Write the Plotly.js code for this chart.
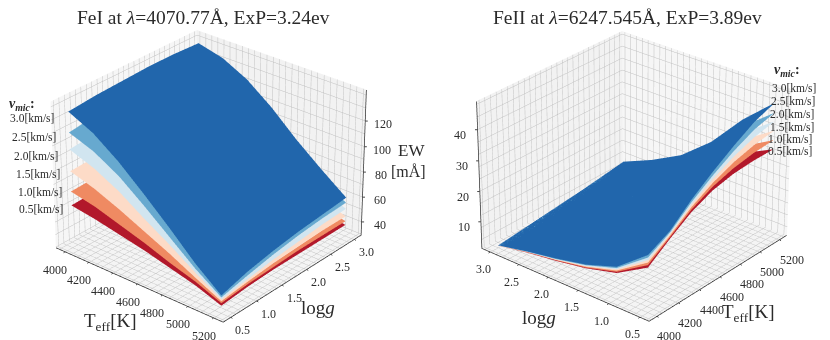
<!DOCTYPE html>
<html>
<head>
<meta charset="utf-8">
<script src="https://cdn.plot.ly/plotly-3.0.1.min.js"></script>
<style>
html,body{margin:0;padding:0;background:#fff;width:830px;height:340px;overflow:hidden}
/* plot is taller than the window: a big scene with a far camera gives the weak perspective of the original */
#chart{position:absolute;left:0;top:-762px;width:830px;height:1864px}
</style>
</head>
<body>
<div id="chart"></div>
<script>
// grid
const teff = [4000, 4200, 4400, 4600, 4800, 5000, 5200];
const logg = [0.5, 1.0, 1.5, 2.0, 2.5, 3.0];
const vmicLabels = ['0.5[km/s]', '1.0[km/s]', '1.5[km/s]', '2.0[km/s]', '2.5[km/s]', '3.0[km/s]'];
const vmicColors = ['#b2182b', '#ef8a62', '#fddbc7', '#d1e5f0', '#67a9cf', '#2166ac'];

// FeI EW, rows = logg, columns = teff
const feI_05 = [
	[63, 60, 56, 52, 47, 42, 35],
	[64, 61, 57, 52, 47, 43, 37],
	[64, 61, 57, 52, 47, 43, 38],
	[65, 61, 57, 52, 47, 42, 38],
	[65, 61, 57, 52, 47, 42, 38],
	[65, 61, 57, 52, 47, 42, 38],
];
const feI_10 = [
	[74, 70, 64, 58, 51, 45, 37],
	[75, 71, 65, 58, 52, 46, 39],
	[76, 72, 65, 59, 52, 46, 40],
	[77, 72, 66, 59, 52, 46, 41],
	[77, 72, 66, 59, 52, 46, 41],
	[78, 73, 66, 59, 52, 46, 41],
];
const feI_15 = [
	[90, 84, 76, 67, 58, 48, 38.5],
	[91, 85, 77, 68, 58, 50, 41],
	[93, 87, 78, 69, 59, 50, 43],
	[94, 88, 79, 69, 60, 51, 44],
	[95, 89, 80, 70, 60, 51, 45],
	[96, 89, 80, 70, 60, 52, 45],
];
const feI_20 = [
	[107, 100, 90, 77, 65, 52, 40],
	[109, 102, 92, 80, 67, 55, 43],
	[111, 104, 94, 81, 69, 56, 46],
	[113, 106, 95, 83, 70, 58, 48],
	[114, 107, 96, 84, 71, 59, 50],
	[115, 108, 97, 85, 72, 60, 51],
];
const feI_25 = [
	[120, 113, 102, 87, 71, 55, 41.5],
	[123, 116, 105, 90, 75, 60, 46],
	[126, 119, 108, 93, 78, 63, 50],
	[128, 121, 110, 95, 80, 65, 53],
	[129, 122, 111, 96, 81, 66, 55],
	[130, 123, 112, 97, 82, 67, 56],
];
const feI_30 = [
	[136, 127, 113, 96, 78, 59, 43],
	[138, 131, 118, 101, 83, 65, 49],
	[139, 133, 121, 105, 86, 69, 53],
	[140, 135, 123, 107, 88, 71, 56],
	[140, 135, 124, 108, 90, 73, 58],
	[139, 134, 124, 109, 91, 75, 60],
];

// FeII EW, rows = logg, columns = teff
const feII_05 = [
	[15.5, 20.5, 25, 28, 29.5, 30, 30],
	[9.5, 14, 18.5, 21.5, 23.5, 25, 25],
	[6.8, 10, 13.5, 16, 18, 19.5, 20.5],
	[5, 6.8, 8.8, 10.5, 12.2, 14, 15.5],
	[3.6, 4.8, 6, 7, 8.2, 9.6, 11],
	[1.7, 2.5, 3.3, 4, 4.8, 5.8, 6.7],
];
const feII_10 = [
	[16.3, 21, 25.8, 29.2, 31.3, 32.5, 33],
	[9.9, 14.4, 19.1, 22.4, 24.8, 26.6, 27.2],
	[7, 10.3, 13.8, 16.5, 18.6, 20.3, 21.4],
	[5.2, 6.9, 8.9, 10.6, 12.3, 14.2, 15.8],
	[3.7, 4.9, 6.1, 7.1, 8.3, 9.7, 11.1],
	[1.7, 2.5, 3.3, 4, 4.8, 5.8, 6.8],
];
const feII_15 = [
	[17.1, 21.5, 26.6, 30.4, 33.2, 35, 36],
	[10.3, 14.8, 19.7, 23.3, 26, 28.2, 29.4],
	[7.3, 10.6, 14.1, 17, 19.2, 21.1, 22.3],
	[5.3, 7, 9, 10.7, 12.4, 14.3, 16],
	[3.8, 5, 6.1, 7.2, 8.4, 9.8, 11.2],
	[1.7, 2.5, 3.3, 4.1, 4.9, 5.9, 6.8],
];
const feII_20 = [
	[17.9, 22, 27.4, 31.6, 35, 37.5, 39],
	[10.7, 15.2, 20.3, 24.2, 27.2, 29.8, 31.6],
	[7.5, 10.9, 14.4, 17.5, 19.8, 21.9, 23.2],
	[5.5, 7.2, 9.2, 10.8, 12.6, 14.5, 16.3],
	[3.8, 5, 6.2, 7.2, 8.4, 9.8, 11.2],
	[1.8, 2.5, 3.4, 4.1, 4.9, 5.9, 6.9],
];
const feII_25 = [
	[18.7, 22.5, 28.2, 32.8, 36.8, 40, 41.8],
	[11.1, 15.6, 20.9, 25.1, 28.6, 31.4, 33.8],
	[7.8, 11.2, 14.7, 18, 20.4, 22.7, 24.1],
	[5.6, 7.4, 9.3, 10.9, 12.7, 14.6, 16.5],
	[3.9, 5.1, 6.2, 7.3, 8.5, 9.9, 11.3],
	[1.8, 2.6, 3.4, 4.2, 5, 6, 6.9],
];
const feII_30 = [
	[19.5, 23, 29, 34, 38.5, 42.5, 45],
	[11.5, 16, 21.5, 26, 30, 33, 36],
	[8, 11.5, 15, 18.5, 21, 23.5, 25],
	[5.8, 7.5, 9.4, 11, 12.8, 14.8, 16.8],
	[4, 5.2, 6.3, 7.4, 8.6, 10, 11.4],
	[1.8, 2.6, 3.4, 4.2, 5, 6, 7],
];

const feISeries = [feI_05, feI_10, feI_15, feI_20, feI_25, feI_30];
const feIISeries = [feII_05, feII_10, feII_15, feII_20, feII_25, feII_30];

const teffRange = [3925, 5275];
const loggRange = [0.35, 3.15];
const feIRange = [29, 144];
const feIIRange = [1, 49];

const teffTicks = [4000, 4200, 4400, 4600, 4800, 5000, 5200];
const loggTicks = [0.5, 1.0, 1.5, 2.0, 2.5, 3.0];
const feITicks = [40, 60, 80, 100, 120];
const feIITicks = [10, 20, 30, 40];

const font = 'Liberation Serif';
const textColor = '#2b2b2b';
const plotHeight = 1864;
const plotTop = 762;

/**
 * Walls and grid only, tick text and axis lines are added so they can sit where the original has them
 */
function buildAxis(range, step, wallColor){
	const vals = [];
	for(let i = Math.ceil(range[0] / step); i * step <= range[1] + 1e-9; i++){
		vals.push(+(i * step).toFixed(3));
	}
	return {
		title: {text: ''},
		range: range,
		autorange: false,
		tickmode: 'array',
		tickvals: vals,
		ticktext: vals.map(() => ''),
		showticklabels: false,
		ticklen: 0,
		showgrid: true,
		gridcolor: '#c0c0c0',
		gridwidth: 1,
		zeroline: false,
		showline: false,
		showbackground: true,
		backgroundcolor: wallColor,
		showspikes: false,
	};
}

function buildSurfaces(series, sceneName){
	return series.map((z, i) => ({
		type: 'surface',
		scene: sceneName,
		x: teff,
		y: logg,
		z: z,
		showscale: false,
		hoverinfo: 'skip',
		colorscale: [[0, vmicColors[i]], [1, vmicColors[i]]],
		lighting: {ambient: 1, diffuse: 0, specular: 0, roughness: 1, fresnel: 0},
		contours: {x: {highlight: false}, y: {highlight: false}, z: {highlight: false}},
	}));
}

// axis lines, pulled just inside the box because gl3d clips at the range
function buildFrameLines(sceneName, zRange, frame){
	const floor = zRange[0] + (zRange[1] - zRange[0]) * 0.002;
	return {
		type: 'scatter3d', scene: sceneName, mode: 'lines',
		x: [teffRange[0], teffRange[1], null, frame.loggAt, frame.loggAt, null, frame.zAt[0], frame.zAt[0]],
		y: [frame.teffAt, frame.teffAt, null, loggRange[0], loggRange[1], null, frame.zAt[1], frame.zAt[1]],
		z: [floor, floor, null, floor, floor, null, zRange[0], zRange[1]],
		line: {color: '#333333', width: 1.5},
		hoverinfo: 'skip', showlegend: false,
	};
}

function tickLabel(x, y, z, text, shift){
	return {
		x: x, y: y, z: z, text: text,
		showarrow: false,
		xanchor: 'center', yanchor: 'middle',
		xshift: shift[0], yshift: -shift[1],
		font: {family: font, size: 12, color: textColor},
	};
}

function tickMark(x, y, z, mark){
	return {
		x: x, y: y, z: z, text: ' ',
		showarrow: true, arrowhead: 0, arrowwidth: 0.9, arrowcolor: '#333333', standoff: 0,
		ax: mark[0], ay: mark[1],
		font: {size: 1},
	};
}

// tick labels and marks sit on the box edges and are moved by a few window pixels
function buildSceneNotes(zRange, zTicks, frame){
	const floor = zRange[0] + (zRange[1] - zRange[0]) * 0.002;
	const notes = [];
	teffTicks.forEach(t => {
		notes.push(tickLabel(t, frame.teffAt, floor, String(t), frame.teffShift));
		notes.push(tickMark(t, frame.teffAt, floor, frame.teffMark));
	});
	loggTicks.forEach(g => {
		notes.push(tickLabel(frame.loggAt, g, floor, g.toFixed(1), frame.loggShift));
		notes.push(tickMark(frame.loggAt, g, floor, frame.loggMark));
	});
	zTicks.forEach(v => {
		notes.push(tickLabel(frame.zAt[0], frame.zAt[1], v, String(v), frame.zShift));
		notes.push(tickMark(frame.zAt[0], frame.zAt[1], v, frame.zMark));
	});
	return notes;
}

// text placed in window pixels
function note(text, px, py, size, anchor){
	return {
		text: text,
		x: px / 830,
		y: 1 - (py + plotTop) / plotHeight,
		xref: 'paper', yref: 'paper',
		xanchor: anchor || 'center', yanchor: 'middle',
		showarrow: false,
		font: {family: font, size: size, color: textColor},
	};
}

const annotations = [
	note('FeI at <i>λ</i>=4070.77Å, ExP=3.24ev', 203, 17, 19.5),
	note('FeII at <i>λ</i>=6247.545Å, ExP=3.89ev', 627, 17, 19.5),
	note('T<sub>eff</sub>[K]', 110, 322, 19),
	note('log<i>g</i>', 318, 307, 19),
	note('EW', 411, 150, 17),
	note('[mÅ]', 408, 172, 16),
	note('T<sub>eff</sub>[K]', 748, 313, 19),
	note('log<i>g</i>', 539, 317, 19),
	note('<b><i>v<sub>mic</sub></i>:</b>', 22, 104, 14),
	note('<b><i>v<sub>mic</sub></i>:</b>', 787, 70, 14),
];
const feILabelPos = [[41, 209], [40, 192], [38, 174], [36, 156], [34, 137], [32, 118]];
const feIILabelPos = [[790, 151], [790, 139], [792, 127], [792, 114], [793, 101], [794, 88]];
vmicLabels.forEach((label, i) => {
	annotations.push(note(label, feILabelPos[i][0], feILabelPos[i][1], 11.5));
	annotations.push(note(label, feIILabelPos[i][0], feIILabelPos[i][1], 11.5));
});

// box edges the axes run on, a hair inside the range so nothing gets clipped or hidden
const tLow = teffRange[0] + 2;
const tHigh = teffRange[1] - 2;
const gLow = loggRange[0] + 0.004;
const gHigh = loggRange[1] - 0.004;

const frame1 = {
	teffAt: gLow, loggAt: tHigh, zAt: [tHigh, gHigh],
	teffShift: [-10, 18], loggShift: [12, 13], zShift: [18, 3],
	teffMark: [-3, 2], loggMark: [3, 2], zMark: [4, 0],
};
const frame2 = {
	teffAt: gLow, loggAt: tLow, zAt: [tLow, gHigh],
	teffShift: [12, 20], loggShift: [-7, 17], zShift: [-17, 5],
	teffMark: [3, 2], loggMark: [-3, 2], zMark: [-4, 0],
};

const layout = {
	width: 830,
	height: plotHeight,
	margin: {l: 0, r: 0, t: 0, b: 0},
	paper_bgcolor: '#ffffff',
	showlegend: false,
	annotations: annotations,
	scene: {
		domain: {x: [0.005, 0.5], y: [0, 1]},
		xaxis: buildAxis(teffRange, 50, '#f6f6f6'),
		yaxis: buildAxis(loggRange, 0.1, '#f2f2f2'),
		zaxis: buildAxis(feIRange, 10, '#f4f4f4'),
		aspectmode: 'manual',
		aspectratio: {x: 1, y: 1, z: 0.75},
		camera: {
			eye: {x: 5.81, y: -6.88, z: 4.79},
			center: {x: 0, y: 0, z: 0},
			projection: {type: 'perspective'},
		},
		annotations: buildSceneNotes(feIRange, feITicks, frame1),
	},
	scene2: {
		domain: {x: [0.53, 1], y: [0, 1]},
		xaxis: buildAxis(teffRange, 50, '#f6f6f6'),
		yaxis: buildAxis(loggRange, 0.1, '#f2f2f2'),
		zaxis: buildAxis(feIIRange, 4, '#f4f4f4'),
		aspectmode: 'manual',
		aspectratio: {x: 1, y: 1, z: 0.75},
		camera: {
			eye: {x: -6.93, y: -5.82, z: 4.71},
			center: {x: 0, y: 0, z: 0},
			projection: {type: 'perspective'},
		},
		annotations: buildSceneNotes(feIIRange, feIITicks, frame2),
	},
};

const traces = buildSurfaces(feISeries, 'scene')
	.concat(buildSurfaces(feIISeries, 'scene2'))
	.concat([buildFrameLines('scene', feIRange, frame1), buildFrameLines('scene2', feIIRange, frame2)]);

Plotly.newPlot('chart', traces, layout, {displayModeBar: false, responsive: false});
</script>
</body>
</html>
